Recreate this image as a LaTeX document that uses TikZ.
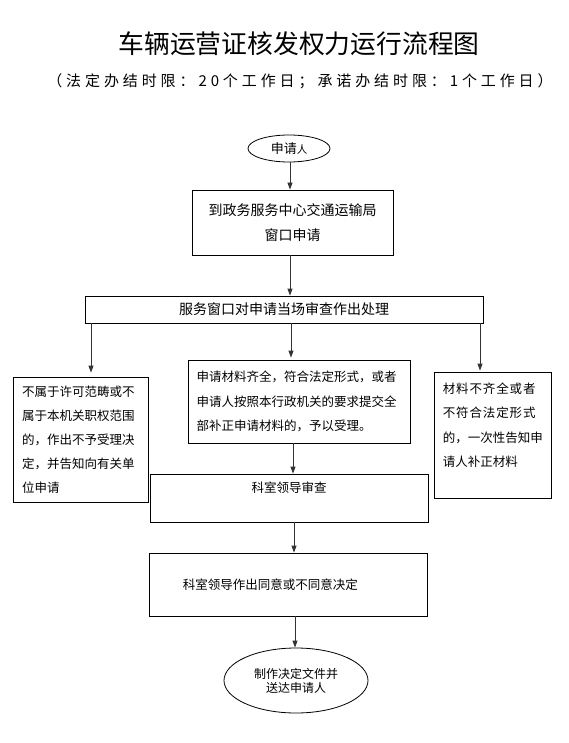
\documentclass[tikz,border=0pt]{standalone}
\usepackage{fontspec}
\setmainfont{Noto Sans CJK SC}
\newfontfamily\limitfont[LetterSpace=26]{Noto Sans CJK SC}
\newfontfamily\widefont[LetterSpace=7]{Noto Sans CJK SC}
\usepackage{tikz}
\usetikzlibrary{shapes.geometric, arrows.meta, positioning}

\begin{document}
\begin{tikzpicture}[
    x=1pt, y=-1pt,
    box/.style={draw, line width=0.8pt, inner sep=0pt},
    oval/.style={draw, ellipse, line width=0.8pt, inner sep=0pt},
    txt/.style={inner sep=0pt, align=left, font=\fontsize{12.5}{24}\selectfont},
    flow/.style={draw=black!80, line width=0.8pt, -{Triangle[width=5pt, length=7pt]}}
]
    \useasboundingbox (0,0) rectangle (569,743);

    % heading
    \node[font=\fontsize{25.8}{28}\selectfont] (title) at (299,44) {车辆运营证核发权力运行流程图};
    \node[font=\fontsize{15}{17}\limitfont] (limit) at (300,81) {（法定办结时限：20个工作日；承诺办结时限：1个工作日）};

    % main steps
    \node[oval, minimum width=82, minimum height=27, font=\fontsize{13}{15}\selectfont] (applicant) at (289,148.5) {申请{\fontsize{10.5}{12}\selectfont 人}};
    \node[box, minimum width=201, minimum height=65, align=center, font=\fontsize{14}{25}\selectfont] (window) at (292.5,222.5) {到政务服务中心交通运输局\\窗口申请};
    \node[box, minimum width=398, minimum height=27, font=\fontsize{14}{16}\selectfont] (check) at (284,309.5) {服务窗口对申请当场审查作出处理};

    % three outcomes
    \node[box, txt, minimum width=135, minimum height=125, text width=117] (refuse) at (80.5,439.5)
        {不属于许可范畴或不\\属于本机关职权范围\\的，作出不予受理决\\定，并告知向有关单\\位申请};
    \node[box, txt, minimum width=222, minimum height=83, text width=205, font=\fontsize{12.5}{24.5}\selectfont] (accept) at (299,401.5)
        {申请材料齐全，符合法定形式，或者\\申请人按照本行政机关的要求提交全\\部补正申请材料的，予以受理。};
    \node[box, minimum width=117, minimum height=126] (supplement) at (492.5,435) {};
    \node[txt, below right=11pt and 9pt of supplement.north west, font=\fontsize{12.5}{24.3}\selectfont] (supplementtext)
        {{\widefont 材料不齐全或者}\\{\widefont 不符合法定形式}\\的，一次性告知申\\请人补正材料};

    % review and decision
    \node[box, minimum width=278, minimum height=48] (review) at (289,498) {};
    \node[txt, below=8pt of review.north] (reviewtext) {科室领导审查};
    \node[box, minimum width=278, minimum height=63] (decide) at (288,584.5) {};
    \node[txt, right=34pt of decide.west] (decidetext) {科室领导作出同意或不同意决定};
    \node[oval, minimum width=144, minimum height=65, align=center, font=\fontsize{12}{14}\selectfont] (notify) at (296,680.5)
        {制作决定文件并\\送达申请人};

    % connectors
    \coordinate (toleft) at ([xshift=10.5pt]refuse.north);
    \coordinate (tomid) at ([xshift=-8pt]accept.north);
    \coordinate (toright) at ([xshift=-12.5pt]supplement.north);
    \coordinate (toreview) at ([xshift=-6pt]accept.south);

    \draw[flow] (applicant.south -| window.north) ++(-2.5,0) -- ([xshift=-2.5pt]window.north);
    \draw[flow] ([xshift=-2.5pt]window.south) -- ([xshift=-2.5pt]window.south |- check.north);
    \draw[flow] (toleft |- check.south) -- ([yshift=4pt]toleft);
    \draw[flow] (tomid |- check.south) -- ([yshift=2pt]tomid);
    \draw[flow] (toright |- check.south) -- ([yshift=1pt]toright);
    \draw[flow] (toreview) -- (toreview |- review.north);
    \draw[flow] ([xshift=5pt]review.south) -- ([xshift=5pt]review.south |- decide.north);
    \draw[flow] ([xshift=7pt]decide.south) -- ([xshift=7pt]decide.south |- notify.north);
\end{tikzpicture}
\end{document}
